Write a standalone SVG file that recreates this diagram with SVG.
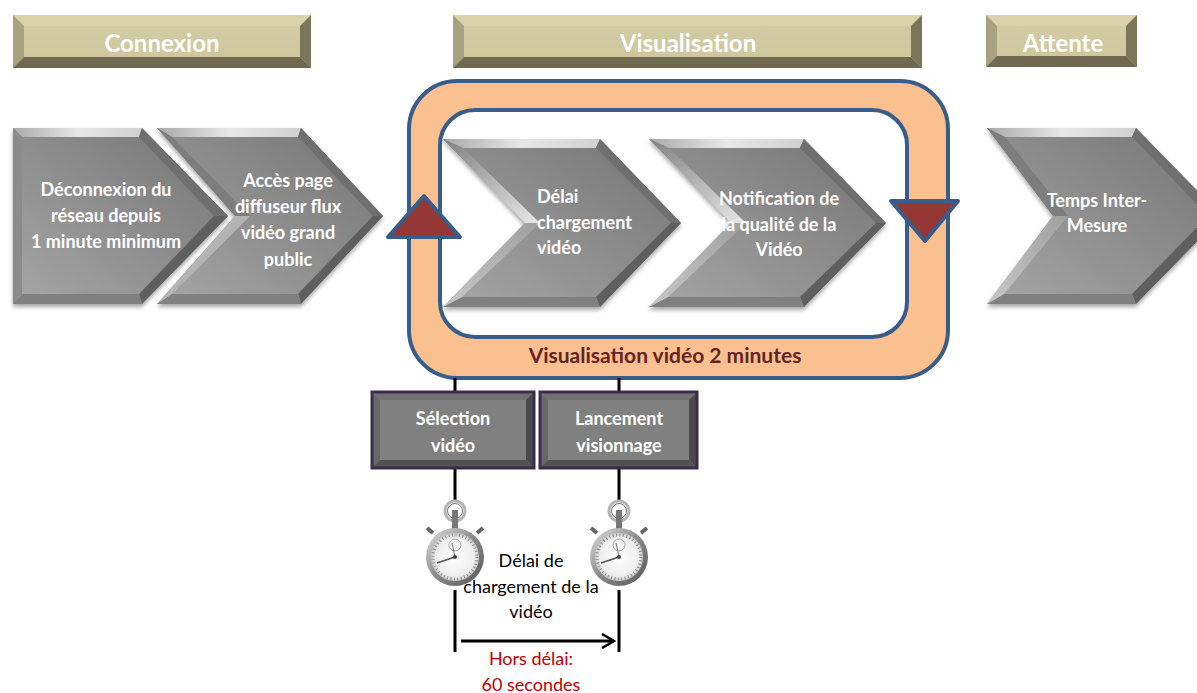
<svg xmlns="http://www.w3.org/2000/svg" xmlns:xlink="http://www.w3.org/1999/xlink" width="1197" height="693" viewBox="0 0 1197 693">
<style>
text{font-family:Lato,"Liberation Sans",sans-serif;text-anchor:middle}
.w{fill:#fff;font-weight:700;font-size:18px}
.h{fill:#fff;font-weight:700;font-size:24px}
.k{fill:#000;font-size:18px}
.r{fill:#c00000;font-size:18px}
.ban{fill:url(#banF)}.bt{fill:#d9d2aa}.bl{fill:#a8a280}.br{fill:#7b7559}.bb{fill:#6f6950}
.f{fill:url(#chF)}.ct{fill:url(#chT)}.cu{fill:#6f6f6f}.cd{fill:#5f5f5f}.cb{fill:#808080}.cl{fill:#8c8c8c}
.nu{fill:#7d7d7d}.nd{fill:#b4b4b4}.nl{fill:url(#chN)}.nm{fill:url(#chM)}
.ring{stroke:#385d8a;stroke-width:4}
.tri{fill:#953735;stroke:#385d8a;stroke-width:4;stroke-linejoin:round}
.ln{stroke:#000;stroke-width:3;fill:none}
.box{fill:#808080}.xt{fill:#707070}.xl{fill:#686868}.xr{fill:#4a4a4a}.xb{fill:#525252}.xo{fill:none;stroke:#3a2c4c;stroke-width:3}
</style>
<defs>
<linearGradient id="banF" x1="0" y1="0" x2="0" y2="1"><stop offset="0" stop-color="#d5cda6"/><stop offset="1" stop-color="#cdc59b"/></linearGradient>
<linearGradient id="chF" x1="0" y1="1" x2="1" y2="0"><stop offset="0" stop-color="#a6a6a6"/><stop offset="1" stop-color="#747474"/></linearGradient>
<linearGradient id="chT" x1="0" y1="0" x2="1" y2="0"><stop offset="0" stop-color="#a8a8a8"/><stop offset=".5" stop-color="#e8e8e8"/><stop offset="1" stop-color="#d0d0d0"/></linearGradient>
<linearGradient id="chN" x1="0" y1="0" x2="1" y2="1"><stop offset="0" stop-color="#808080"/><stop offset="1" stop-color="#e8e8e8"/></linearGradient>
<linearGradient id="chM" x1="0" y1="1" x2="1" y2="0"><stop offset="0" stop-color="#c8c8c8"/><stop offset="1" stop-color="#a0a0a0"/></linearGradient>
<radialGradient id="dial"><stop offset="0" stop-color="#fff"/><stop offset=".8" stop-color="#eee"/><stop offset="1" stop-color="#cfcfcf"/></radialGradient>
<linearGradient id="case" x1="0" y1="0" x2="1" y2="1"><stop offset="0" stop-color="#e0e0e0"/><stop offset=".5" stop-color="#8a8a8a"/><stop offset="1" stop-color="#555"/></linearGradient>
<filter id="sh" x="-5%" y="-5%" width="110%" height="112%"><feDropShadow dx="0" dy="3" stdDeviation="2" flood-color="#000" flood-opacity=".35"/></filter>
<marker id="open" markerUnits="userSpaceOnUse" markerWidth="16" markerHeight="16" refX="14" refY="8" orient="auto"><path d="M2 1L14 8L2 15" fill="none" stroke="#000" stroke-width="2.5"/></marker>
<g id="watch">
<circle cx="0" cy="-46" r="10" fill="none" stroke="#b5b5b5" stroke-width="3"/>
<circle cx="0" cy="-46" r="7.5" fill="none" stroke="#777" stroke-width="1"/>
<rect x="-3" y="-47" width="6" height="20" fill="#777"/>
<path d="M-22-24L-28-29M22-24L28-29" stroke="#666" stroke-width="4"/>
<circle r="29" fill="url(#case)"/>
<circle r="24" fill="url(#dial)"/>
<circle r="22" fill="none" stroke="#888" stroke-width="3" stroke-dasharray="1 2.45"/>
<circle cx="0" cy="-12" r="6" fill="none" stroke="#aaa"/>
<path d="M0 0L-18 6" stroke="#555" stroke-width="1.5"/>
<path d="M0 0L-3-14" stroke="#777"/>
<circle r="2" fill="#444"/>
</g>
</defs>

<g id="banner-connexion">
<rect class="ban" x="13" y="15" width="298" height="53"/>
<polygon class="bt" points="13,15 311,15 300,26 24,26"/>
<polygon class="bl" points="13,15 24,26 24,57 13,68"/>
<polygon class="br" points="311,15 311,68 300,57 300,26"/>
<polygon class="bb" points="13,68 24,57 300,57 311,68"/>
<text class="h" x="162" y="52">Connexion</text>
</g>
<g id="banner-visualisation">
<rect class="ban" x="453" y="15" width="469" height="53"/>
<polygon class="bt" points="453,15 922,15 911,26 464,26"/>
<polygon class="bl" points="453,15 464,26 464,57 453,68"/>
<polygon class="br" points="922,15 922,68 911,57 911,26"/>
<polygon class="bb" points="453,68 464,57 911,57 922,68"/>
<text class="h" x="688" y="52">Visualisation</text>
</g>
<g id="banner-attente">
<rect class="ban" x="986" y="15" width="151" height="52"/>
<polygon class="bt" points="986,15 1137,15 1126,26 997,26"/>
<polygon class="bl" points="986,15 997,26 997,56 986,67"/>
<polygon class="br" points="1137,15 1137,67 1126,56 1126,26"/>
<polygon class="bb" points="986,67 997,56 1126,56 1137,67"/>
<text class="h" x="1063" y="52">Attente</text>
</g>

<g id="step-deconnexion" >
<g filter="url(#sh)"><polygon class="f" points="13,128 142,128 228,216 142,304 13,304"/></g>
<polygon class="ct" points="13,128 142,128 139,137 22,137"/>
<polygon class="cu" points="142,128 228,216 214,216 139,137"/>
<polygon class="cd" points="228,216 142,304 139,294 214,216"/>
<polygon class="cb" points="13,304 22,294 139,294 142,304"/>
<polygon class="cl" points="13,128 22,137 22,294 13,304"/>
<text class="w" x="106" y="196">Déconnexion du</text>
<text class="w" x="106" y="222">réseau depuis</text>
<text class="w" x="106" y="248">1 minute minimum</text>
</g>
<g id="step-acces">
<g filter="url(#sh)"><polygon class="f" points="157,128 301,128 383,216 301,304 157,304 235,216"/></g>
<polygon class="ct" points="157,128 301,128 298,137 172,137"/>
<polygon class="cu" points="301,128 383,216 373,216 298,137"/>
<polygon class="cd" points="383,216 301,304 298,294 373,216"/>
<polygon class="cb" points="157,304 172,294 298,294 301,304"/>
<polygon class="nu" points="157,128 172,137 250,216 235,216"/>
<polygon class="nd" points="157,304 172,294 250,216 235,216"/>
<text class="w" x="288" y="187">Accès page</text>
<text class="w" x="288" y="213">diffuseur flux</text>
<text class="w" x="288" y="239">vidéo grand</text>
<text class="w" x="288" y="266">public</text>
</g>

<g id="loop">
<rect class="ring" x="409" y="81" width="539" height="297" rx="48" fill="#fac090"/>
<rect class="ring" x="440" y="110" width="467" height="227" rx="35" fill="#fff"/>
<text x="665" y="363" font-size="21" font-weight="700" fill="#632423">Visualisation vidéo 2 minutes</text>
</g>

<g id="step-delai">
<g filter="url(#sh)"><polygon class="f" points="443,139 600,139 681,223 600,307 443,307 525,223"/></g>
<polygon class="ct" points="443,139 600,139 596,148 463,148"/>
<polygon class="cu" points="600,139 681,223 671,223 596,148"/>
<polygon class="cd" points="681,223 600,307 596,297 671,223"/>
<polygon class="cb" points="443,307 462,297 596,297 600,307"/>
<polygon class="nl" points="443,139 463,148 540,223 525,223"/>
<polygon class="nm" points="443,307 462,297 540,223 525,223"/>
<text class="w" x="537" y="203" style="text-anchor:start">Délai</text>
<text class="w" x="537" y="229" style="text-anchor:start">chargement</text>
<text class="w" x="537" y="254" style="text-anchor:start">vidéo</text>
</g>
<g id="step-notification">
<g filter="url(#sh)"><polygon class="f" points="649,139 804,139 886,223 804,307 649,307 731,223"/></g>
<polygon class="ct" points="649,139 804,139 800,148 669,148"/>
<polygon class="cu" points="804,139 886,223 876,223 800,148"/>
<polygon class="cd" points="886,223 804,307 800,297 876,223"/>
<polygon class="cb" points="649,307 668,297 800,297 804,307"/>
<polygon class="nl" points="649,139 669,148 746,223 731,223"/>
<polygon class="nm" points="649,307 668,297 746,223 731,223"/>
<text class="w" x="779" y="205">Notification de</text>
<text class="w" x="779" y="231">la qualité de la</text>
<text class="w" x="779" y="256">Vidéo</text>
</g>
<g id="step-temps">
<g filter="url(#sh)"><polygon class="f" points="987,128 1136,128 1222,216 1136,304 987,304 1053,216"/></g>
<polygon class="ct" points="987,128 1136,128 1132,137 1005,137"/>
<polygon class="cu" points="1136,128 1222,216 1208,216 1132,137"/>
<polygon class="cd" points="1222,216 1136,304 1132,294 1208,216"/>
<polygon class="cb" points="987,304 1004,294 1132,294 1136,304"/>
<polygon class="nu" points="987,128 1005,137 1068,216 1053,216"/>
<polygon class="nm" points="987,304 1004,294 1068,216 1053,216"/>
<text class="w" x="1097" y="207">Temps Inter-</text>
<text class="w" x="1097" y="232">Mesure</text>
</g>

<g id="marker-up"><polygon class="tri" points="424,196 460,237 388,237"/></g>
<g id="marker-down"><polygon class="tri" points="925,241 891,201 958,201"/></g>

<g id="connectors">
<path class="ln" d="M455 378V391M455 469V500M455 590V652M619 378V391M619 469V500M619 590V652"/>
<path class="ln" d="M461 641H614" marker-end="url(#open)"/>
</g>

<g id="box-selection">
<rect class="box" x="372" y="392" width="162" height="76"/>
<polygon class="xt" points="372,392 534,392 526,400 380,400"/>
<polygon class="xl" points="372,392 380,400 380,460 372,468"/>
<polygon class="xr" points="534,392 534,468 526,460 526,400"/>
<polygon class="xb" points="372,468 380,460 526,460 534,468"/>
<rect class="xo" x="372" y="392" width="162" height="76"/>
<text class="w" x="453" y="425">Sélection</text>
<text class="w" x="453" y="452">vidéo</text>
</g>
<g id="box-lancement">
<rect class="box" x="540" y="392" width="157" height="76"/>
<polygon class="xt" points="540,392 697,392 689,400 548,400"/>
<polygon class="xl" points="540,392 548,400 548,460 540,468"/>
<polygon class="xr" points="697,392 697,468 689,460 689,400"/>
<polygon class="xb" points="540,468 548,460 689,460 697,468"/>
<rect class="xo" x="540" y="392" width="157" height="76"/>
<text class="w" x="619" y="425">Lancement</text>
<text class="w" x="619" y="452">visionnage</text>
</g>

<g id="stopwatch-1"><use href="#watch" x="455" y="557"/></g>
<g id="stopwatch-2"><use href="#watch" x="619" y="557"/></g>

<g id="label-delai">
<text class="k" x="531" y="567">Délai de</text>
<text class="k" x="531" y="593">chargement de la</text>
<text class="k" x="531" y="618">vidéo</text>
</g>
<g id="label-hors">
<text class="r" x="531" y="665">Hors délai:</text>
<text class="r" x="531" y="691">60 secondes</text>
</g>
</svg>
